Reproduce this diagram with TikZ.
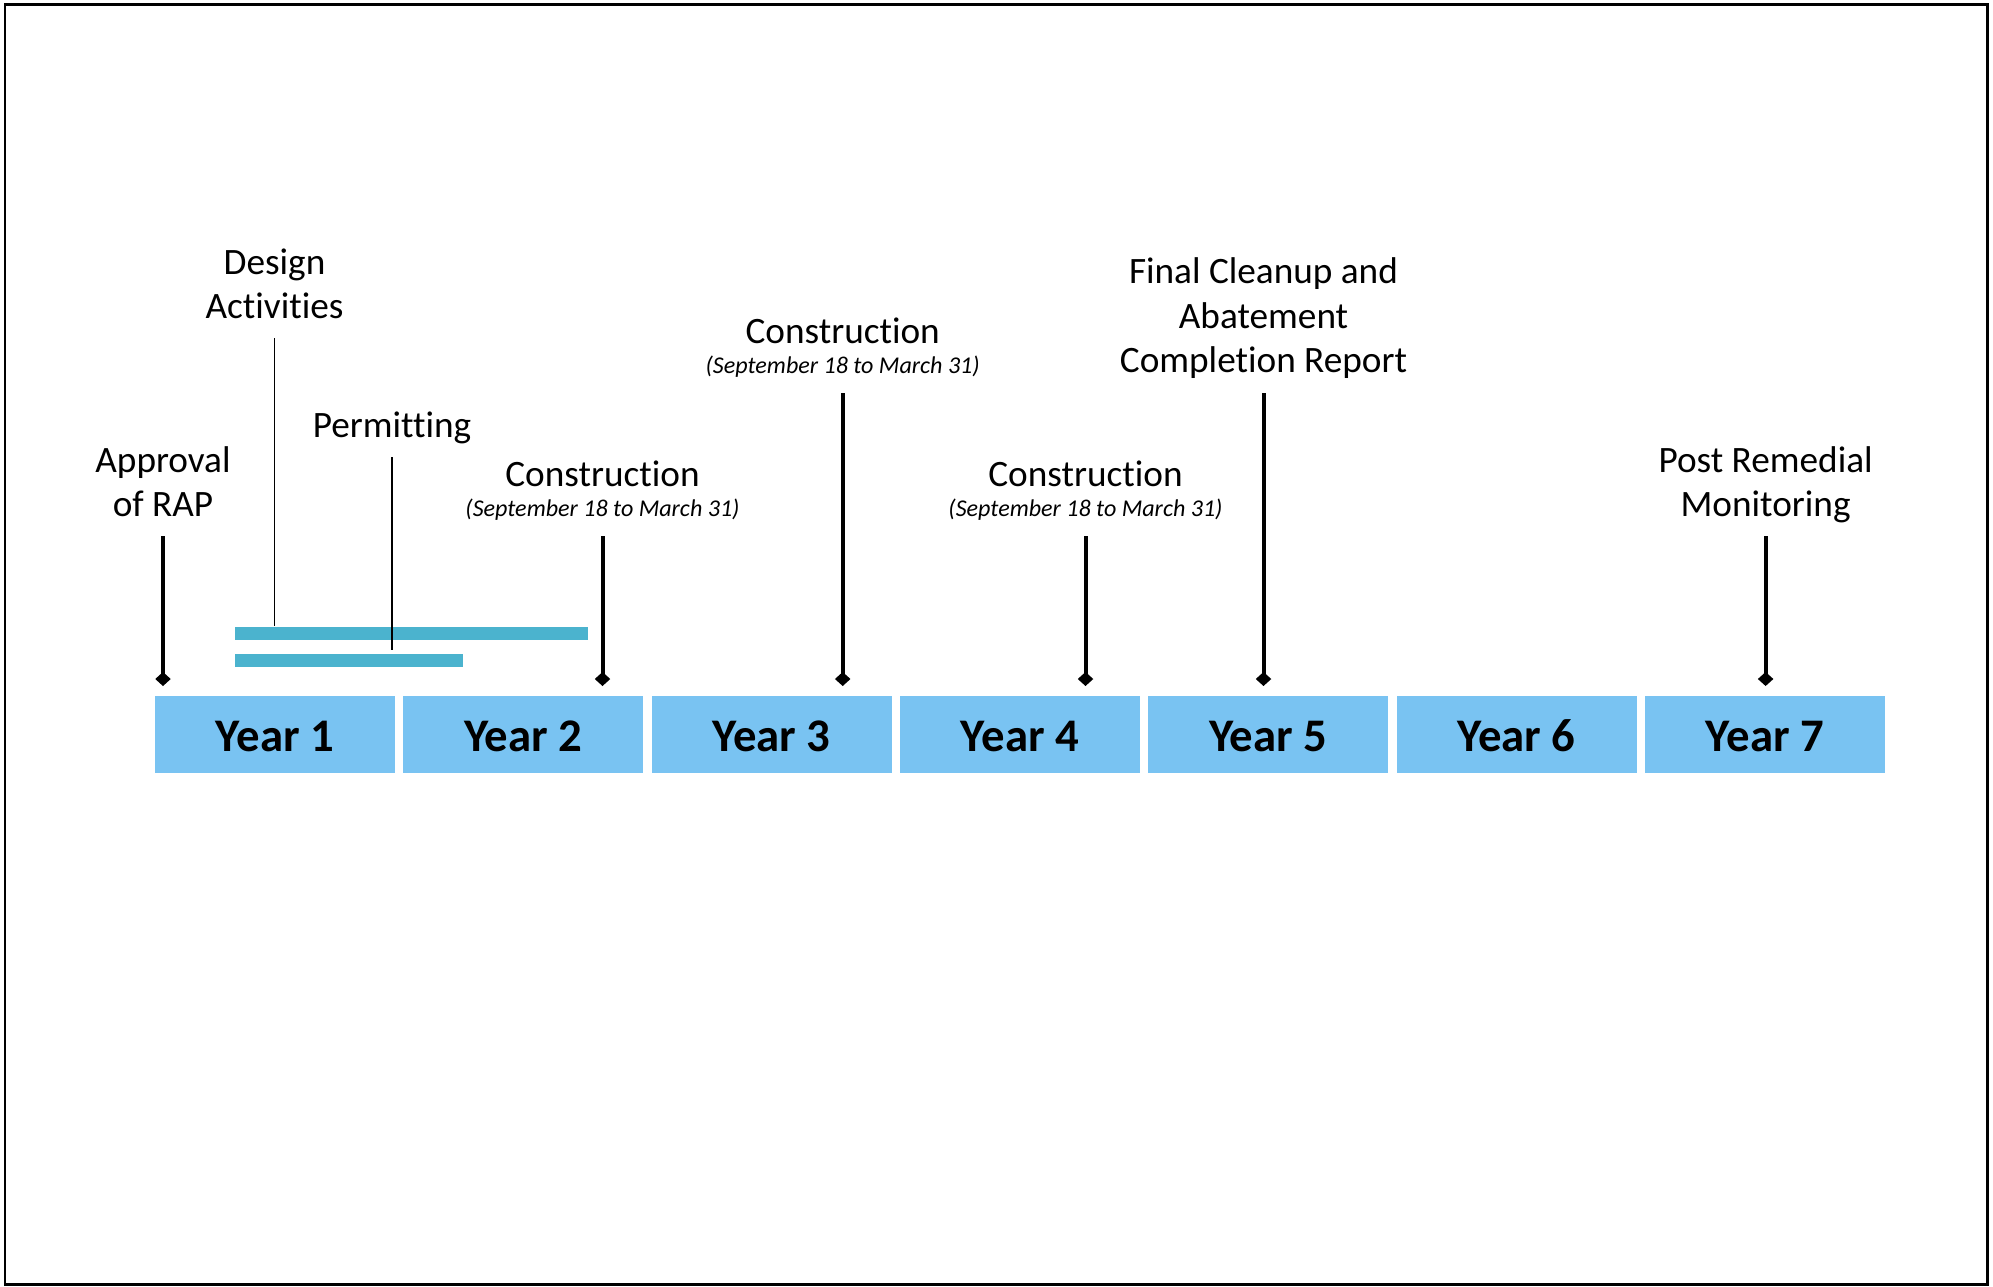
\documentclass[tikz,border=0pt]{standalone}
\usepackage{fontspec}
\setmainfont{Carlito}[Ligatures=NoCommon]
\usepackage{tikz}
\usetikzlibrary{arrows.meta,positioning}
\definecolor{yearblue}{RGB}{121,195,242}
\definecolor{barteal}{RGB}{75,179,206}
\newcommand{\datefont}{\fontsize{6.85pt}{8pt}\selectfont\itshape}
\tikzstyle{yearbox} = [fill=yearblue, minimum width=24mm, minimum height=7.7mm, inner sep=0pt, text height=9.9pt, text depth=0pt, font=\fontsize{13.3pt}{15pt}\selectfont\bfseries]
\tikzstyle{eventlbl} = [anchor=south, align=center, inner sep=0pt, text depth=0pt, font=\fontsize{10.6pt}{12.6pt}\selectfont]
\tikzstyle{milestone} = [line width=0.4mm, -{Diamond[length=1.4mm,width=1.55mm]}]
\tikzstyle{leader} = [line width=0.15mm]
\tikzstyle{taskbar} = [fill=barteal, inner sep=0pt, anchor=north west, minimum height=1.3mm]

\begin{document}
\begin{tikzpicture}[x=0.1mm,y=-0.1mm]
\useasboundingbox (0,0) rectangle (1993,1286);
\draw[line width=0.3mm] (5,4.5) rectangle (1987,1284.5);
% years
\foreach \i in {1,...,7}
  \node[yearbox] (y\i) at ({275+248.33*(\i-1)},734.5) {Year \i};
\coordinate (tipline) at (0,686);
% design and permitting bars
\node[taskbar, minimum width=35.3mm] (dbar) at (234,626) {};
\node[taskbar, minimum width=22.8mm] (pbar) at (234,653) {};
% labels
\node[eventlbl] (rap) at (163,517) {Approval\\of RAP};
\node[eventlbl] (design) at (274.5,319) {Design\\Activities};
\node[eventlbl] (permit) at (392,438) {Permitting};
\node[eventlbl] (con1) at (602.5,517) {Construction\\[-4pt]{\datefont (September 18 to March 31)}};
\node[eventlbl] (con2) at (842.7,374) {Construction\\[-4pt]{\datefont (September 18 to March 31)}};
\node[eventlbl] (con3) at (1085.5,517) {Construction\\[-4pt]{\datefont (September 18 to March 31)}};
\node[eventlbl] (final) at (1263.5,373) {Final Cleanup and\\Abatement\\Completion Report};
\node[eventlbl] (post) at (1765.6,517) {Post Remedial\\Monitoring};
% connectors
\draw[leader] ([yshift=-1.9mm]design.south) -- (design.south |- dbar.north);
\draw[leader] ([yshift=-1.9mm]permit.south) -- ([yshift=0.3mm]permit.south |- pbar.north);
\foreach \n in {rap,con1,con2,con3,post}
  \draw[milestone] ([yshift=-1.9mm]\n.south) -- (\n.south |- tipline);
\draw[milestone] ([yshift=-2mm]final.south) -- (final.south |- tipline);
\end{tikzpicture}
\end{document}
